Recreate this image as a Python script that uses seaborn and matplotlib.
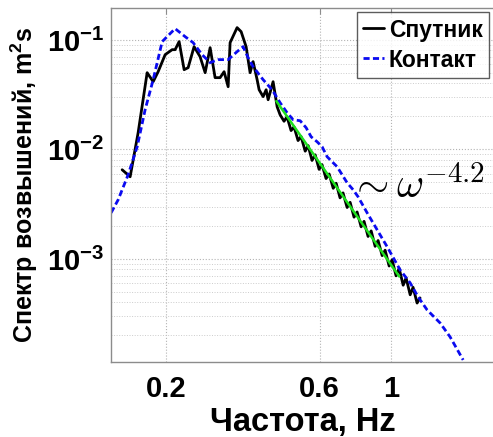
import numpy as np
import pandas as pd
import matplotlib
matplotlib.use('Agg')
import matplotlib.pyplot as plt
import seaborn as sns
from matplotlib.ticker import FixedLocator, FixedFormatter, NullLocator, LogLocator, NullFormatter

# --- data ---
# Спутник (satellite spectrum)
sat_freq = [0.1461, 0.1547, 0.1638, 0.1747, 0.1824, 0.189, 0.1987, 0.2089, 0.2134, 0.2196,
            0.2276, 0.2342, 0.2444, 0.2551, 0.2645, 0.2741, 0.2840, 0.2943, 0.3029, 0.3118,
            0.3162, 0.3324, 0.3421, 0.3545, 0.3648, 0.3727, 0.3836, 0.3891, 0.4004, 0.4091,
            0.4150, 0.4300, 0.4426,
            0.452, 0.465, 0.475, 0.489, 0.4995, 0.514, 0.525, 0.541, 0.5525, 0.568,
            0.581, 0.5975, 0.610, 0.628, 0.642, 0.661, 0.675, 0.694, 0.709, 0.730,
            0.746, 0.767, 0.784, 0.807, 0.824, 0.848, 0.867, 0.892, 0.911, 0.938,
            0.958, 0.986, 1.007, 1.036, 1.059, 1.090, 1.113, 1.146, 1.170, 1.204, 1.230]
sat_spec = [0.0065, 0.00561, 0.01415, 0.04996, 0.04134, 0.05102, 0.07295, 0.0810, 0.0810, 0.0959,
            0.0532, 0.0555, 0.0863, 0.0699, 0.04996, 0.0845, 0.0450, 0.0450, 0.0510, 0.0372,
            0.0939, 0.1287, 0.1183, 0.0863, 0.04996, 0.0630, 0.0431, 0.0349, 0.0302, 0.0349,
            0.0283, 0.04134, 0.0244,
            0.02066, 0.0180, 0.0198, 0.01480, 0.01600, 0.01200, 0.01310, 0.00960, 0.0108, 0.00790,
            0.0089, 0.00655, 0.00725, 0.00540, 0.00595, 0.00440, 0.0049, 0.0036, 0.00400, 0.00294,
            0.00328, 0.00240, 0.00268, 0.00196, 0.0022, 0.00160, 0.00180, 0.00130, 0.00147, 0.00107,
            0.00120, 0.000860, 0.000980, 0.000700, 0.000820, 0.000575, 0.000670, 0.000470, 0.000550,
            0.000395, 0.000440]

# Контакт (in-situ spectrum)
con_freq = [0.1350, 0.1420, 0.1525, 0.1627, 0.1722, 0.1824, 0.1945, 0.2015, 0.2134, 0.2292,
            0.2427, 0.2588, 0.2741, 0.2902, 0.3118, 0.3324, 0.3470, 0.3596, 0.3727, 0.4004,
            0.4270, 0.4520, 0.4753, 0.4962, 0.5218, 0.5445, 0.5643, 0.5890, 0.6105, 0.6329,
            0.6798, 0.7302, 0.7621, 0.7898, 0.8423, 0.9049, 0.9718, 1.0665, 1.1456, 1.2129,
            1.2935, 1.4196, 1.5246, 1.6737]
con_spec = [0.00263, 0.00346, 0.00585, 0.01054, 0.02294, 0.0431, 0.0959, 0.1065, 0.1260, 0.1065,
            0.0939, 0.07295, 0.0617, 0.0657, 0.0657, 0.0777, 0.0863, 0.0685, 0.0567, 0.0431,
            0.0349, 0.0266, 0.02154, 0.0186, 0.0182, 0.01572, 0.0130, 0.0117, 0.01054, 0.00854,
            0.00692, 0.00494, 0.00427, 0.00368, 0.00263, 0.00184, 0.00129, 0.000793, 0.000604,
            0.00045, 0.000342, 0.00026, 0.000194, 0.0001196]

# fitted power law ~ omega^-4.2 (end points)
fit_freq = [0.44, 1.06]
fit_spec = [0.0275, 0.00069]

x_ticks = [0.2, 0.6, 1]
x_tick_labels = ['0.2', '0.6', '1']
y_ticks = [1e-3, 1e-2, 1e-1]
y_tick_labels = [r'$\mathbf{10^{-3}}$', r'$\mathbf{10^{-2}}$', r'$\mathbf{10^{-1}}$']

sns.set_style('white')
plt.rcParams['font.family'] = ['Liberation Sans', 'DejaVu Sans']
plt.rcParams['font.weight'] = 'bold'
plt.rcParams['text.color'] = 'black'
plt.rcParams['axes.labelcolor'] = 'black'
plt.rcParams['xtick.labelcolor'] = 'black'
plt.rcParams['ytick.labelcolor'] = 'black'
plt.rcParams['mathtext.fontset'] = 'custom'
plt.rcParams['mathtext.rm'] = 'Liberation Sans'
plt.rcParams['mathtext.bf'] = 'Liberation Sans:bold'

fig = plt.figure(figsize=(4.934, 4.374), dpi=100, facecolor='white')
# the plot box runs past the right edge of the picture, as in the reference
ax = fig.add_axes([111 / 493, 75 / 437, 410 / 493, 354 / 437])

sat = pd.DataFrame({'f': sat_freq, 's': sat_spec})
con = pd.DataFrame({'f': con_freq, 's': con_spec})
fit = pd.DataFrame({'f': fit_freq, 's': fit_spec})

sns.lineplot(data=sat, x='f', y='s', ax=ax, color='black', linewidth=2.0,
             label='Спутник', estimator=None, sort=False)
sns.lineplot(data=con, x='f', y='s', ax=ax, color='#0a0af0', linewidth=2.0,
             linestyle=(0, (2.2, 1.2)), label='Контакт', estimator=None, sort=False)
sns.lineplot(data=fit, x='f', y='s', ax=ax, color='#1ee01e', linewidth=1.8,
             estimator=None, sort=False, legend=False)

ax.set_xscale('log')
ax.set_yscale('log')
ax.set_xlim(0.135, 2.539)
ax.set_ylim(1.147e-4, 0.196)

ax.xaxis.set_major_locator(FixedLocator(x_ticks))
ax.xaxis.set_major_formatter(FixedFormatter(x_tick_labels))
ax.xaxis.set_minor_locator(NullLocator())
ax.yaxis.set_major_locator(FixedLocator(y_ticks))
ax.yaxis.set_major_formatter(FixedFormatter(y_tick_labels))
ax.yaxis.set_minor_locator(LogLocator(base=10, subs=np.arange(2, 10)))
ax.yaxis.set_minor_formatter(NullFormatter())

ax.tick_params(axis='x', which='major', labelsize=21, direction='in', length=4,
               color='0.55', pad=9, top=True)
ax.tick_params(axis='y', which='major', labelsize=21, direction='in', length=4,
               color='0.55', pad=5)
ax.tick_params(axis='y', which='minor', direction='in', length=2, color='0.6')
for lab in ax.get_xticklabels() + ax.get_yticklabels():
    lab.set_fontweight('bold')

ax.grid(True, which='major', axis='both', linestyle=':', color='0.7', linewidth=0.8)
ax.grid(True, which='minor', axis='y', linestyle=':', color='0.8', linewidth=0.7)

for side in ['left', 'bottom', 'top']:
    ax.spines[side].set_color('0.55')
    ax.spines[side].set_linewidth(1.0)
ax.spines['right'].set_visible(False)

ax.set_xlabel('Частота, Hz', fontsize=23.5, fontweight='bold')
ax.xaxis.set_label_coords((303 - 111) / 410, -0.125)
ax.set_ylabel('Спектр возвышений, m$\\mathbf{^2}$s', fontsize=18, fontweight='bold', labelpad=5)

leg = ax.legend(loc='upper right', bbox_to_anchor=(489 / 493, 1 - 12 / 437),
                bbox_transform=fig.transFigure, fontsize=16.5, frameon=True,
                fancybox=False, handlelength=0.9, handletextpad=0.2,
                borderpad=0.3, labelspacing=0.3, borderaxespad=0)
leg.get_frame().set_edgecolor('0.2')
leg.get_frame().set_linewidth(1.0)
for t in leg.get_texts():
    t.set_fontweight('bold')

fig.text(349 / 493, 1 - 187 / 437, r'$\sim\omega^{-4.2}$', fontsize=30,
         math_fontfamily='cm', ha='left', va='center')

fig.savefig('out.png', dpi=100, facecolor='white')
